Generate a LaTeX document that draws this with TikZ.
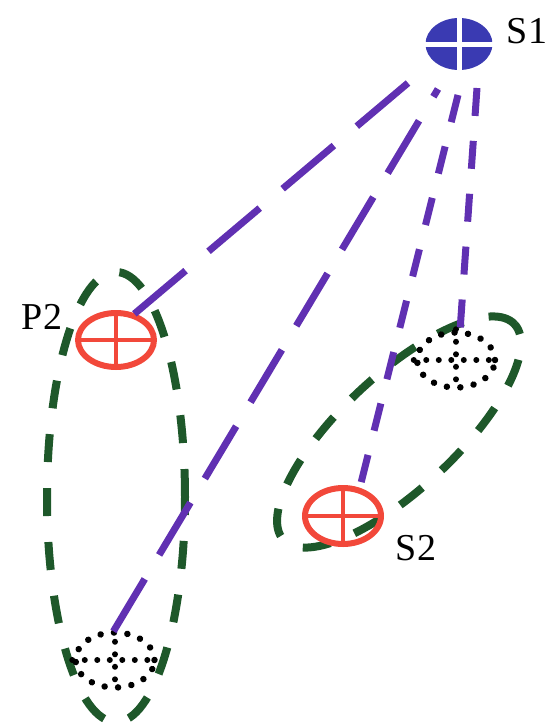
\documentclass[tikz,border=0pt]{standalone}
\usepackage{fontspec}
\setmainfont{Liberation Serif}
\usetikzlibrary{shapes.geometric}
\definecolor{purp}{RGB}{96,48,178}
\definecolor{sblue}{RGB}{58,58,178}
\definecolor{sred}{RGB}{242,72,58}
\definecolor{dgreen}{RGB}{30,88,42}
\tikzset{
  srcfill/.style={ellipse,fill=sblue,inner sep=0pt,minimum width=67pt,minimum height=52pt},
  redring/.style={ellipse,draw=sred,line width=6pt,inner sep=0pt,minimum width=76pt,minimum height=54pt},
  dotring/.style={ellipse,draw=black,line width=6.5pt,dash pattern=on 0.01pt off 13.5pt,line cap=round,inner sep=0pt,minimum width=78pt,minimum height=55pt},
  dotcross/.style={draw=black,line width=6pt,dash pattern=on 0.01pt off 12.5pt,line cap=round},
  redcross/.style={draw=sred,line width=4.5pt},
  whitecross/.style={draw=white,line width=5pt},
  longdash/.style={draw=purp,line width=7pt,dash pattern=on 67pt off 30pt},
  meddash/.style={draw=purp,line width=7pt,dash pattern=on 61pt off 28pt,dash phase=52pt},
  shortdash/.style={draw=purp,line width=7pt,dash pattern=on 28pt off 25pt},
  grp/.style={draw=dgreen,line width=8pt,dash pattern=on 28pt off 26pt},
  lbl/.style={font=\fontsize{38}{42}\selectfont,inner sep=0pt}
}
\begin{document}
\begin{tikzpicture}[x=1pt,y=-1pt]
\useasboundingbox (0,0) rectangle (556,728);
% group outlines
\draw[grp] (116,497) ellipse [x radius=69pt, y radius=225pt];
\draw[grp,rotate around={43:(399,432)}] (399,432) ellipse [x radius=158pt, y radius=57pt];
% nodes
\node[srcfill] (S1) at (459,44) {};
\node[redring] (P2) at (116,340) {};
\node[redring,minimum height=56pt] (S2) at (343,516) {};
\node[dotring] (D1) at (456,360) {};
\node[dotring,minimum width=79pt] (D2) at (115,660) {};
% crosses
\draw[whitecross] (S1.north) -- (S1.south);
\draw[whitecross] (S1.west) -- (S1.east);
\draw[redcross] (P2.north) -- (P2.south);
\draw[redcross] (P2.west) -- (P2.east);
\draw[redcross] (S2.north) -- (S2.south);
\draw[redcross] (S2.west) -- (S2.east);
\draw[dotcross] (D1.north) -- (D1.south);
\draw[dotcross] (D1.west) -- (D1.east);
\draw[dotcross] (D2.north) -- (D2.south);
\draw[dotcross] (D2.west) -- (D2.east);
% connector ends
\coordinate (a1) at (408,83);
\coordinate (b1) at (133,315);
\coordinate (a2) at (438,89);
\coordinate (b2) at (113,632);
\coordinate (a3) at (458,95);
\coordinate (b3) at (360,487);
\coordinate (a4) at (477,88);
\coordinate (b4) at (460,331);
\draw[longdash] (a1) -- (b1);
\draw[meddash] (a2) -- (b2);
\draw[shortdash] (a3) -- (b3);
\draw[shortdash] (a4) -- (b4);
% labels
\node[lbl] (lS1) at (527,31) {S1};
\node[lbl] (lP2) at (42,317) {P2};
\node[lbl] (lS2) at (416,548) {S2};
\end{tikzpicture}
\end{document}
